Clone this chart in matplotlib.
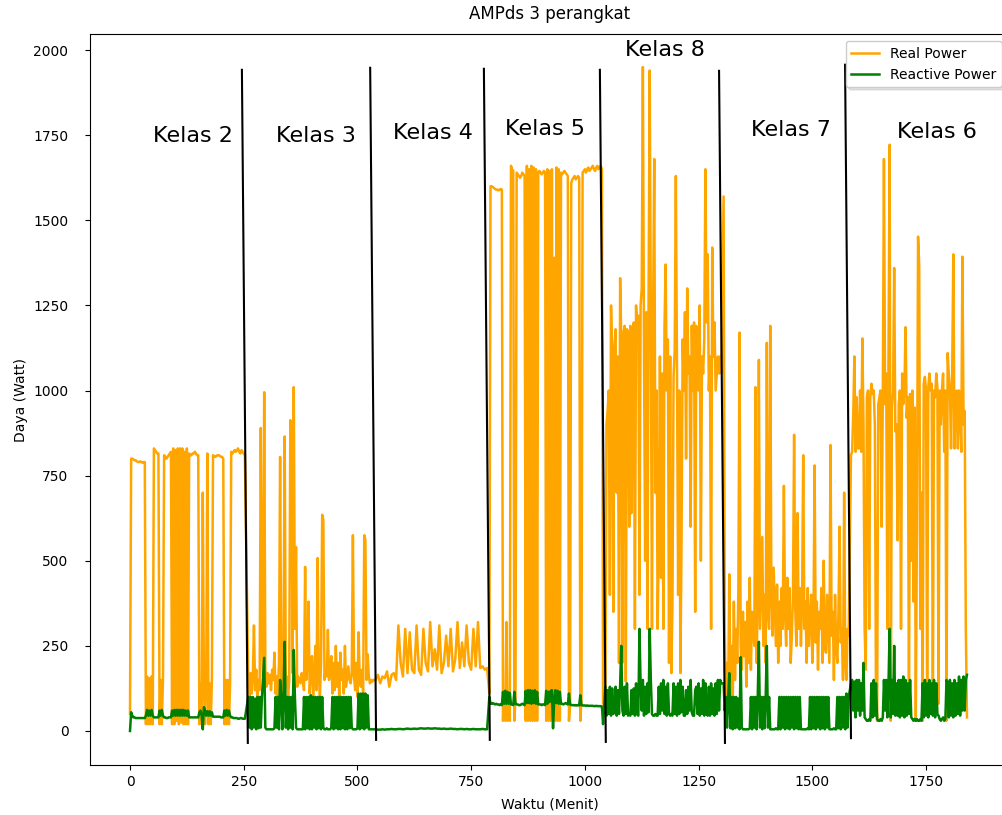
import numpy as np
import matplotlib.pyplot as plt

# awal tiap kelas (menit) dan jarak sampel (menit)
kelas_mulai = [0, 260, 540, 790, 1045, 1305, 1585]
langkah = [2.5, 2.5, 5, 2.5, 2.5, 2.5, 2.5]

# Real Power per kelas
real_k2 = [50,
           800, 800, 798, 795, 795, 792, 790, 790, 792, 790, 788, 790, 790,
           20, 160, 20, 155, 20, 160, 20,
           830, 825, 820, 815, 815,
           20, 150, 20, 155,
           810, 805, 800, 805, 810, 815, 820,
           20, 830, 20, 825, 30, 830, 20, 830, 25, 830, 20, 820, 20, 830, 20,
           815, 810, 810, 815, 815, 820, 815, 810, 810,
           20, 140, 20, 700, 130, 20, 140, 815, 20,
           140, 20, 150,
           810, 808, 805, 808, 810, 810, 808, 805, 805, 800,
           20, 150, 20, 150, 20, 140,
           820, 815, 820, 825, 820, 825, 830, 820, 815, 825, 820, 815, 810]
real_k3 = [150, 100, 170, 110, 160, 310, 120, 180, 100, 150,
           120, 890, 300, 160, 995, 180, 130, 170, 140, 165,
           120, 180, 150, 230, 110, 160, 100, 200, 805, 150,
           100, 250, 865, 130, 160, 100, 150, 913, 880, 170,
           1010, 300, 540, 130, 160, 150, 140, 170, 150, 120,
           482, 150, 200, 380, 110, 170, 220, 100, 160, 250,
           120, 508, 170, 100, 200, 635, 620, 150, 180, 160,
           297, 150, 180, 220, 110, 200, 120, 250, 130, 200,
           100, 230, 150, 180, 110, 250, 130, 160, 190, 150,
           140, 170, 575, 160, 120, 200, 100, 290, 150, 130,
           180, 110, 575, 560, 150, 225, 160, 140, 150, 145,
           150]
real_k4 = [150, 165, 140, 160, 155, 175, 130, 165, 170, 150, 310, 200, 160, 300, 170, 290, 180, 170, 310, 180,
           165, 300, 200, 175, 320, 190, 240, 180, 310, 170, 200, 280, 190, 300, 175, 210, 320, 185, 260, 190,
           310, 200, 180, 300, 190, 320, 185, 190, 180, 185]
real_k5 = [110, 1600,
           1600, 1598, 1595, 1592, 1590, 1590, 1588, 1590, 1592, 1590,
           30, 120, 30, 320, 30, 110, 30,
           1660, 1650, 1645,
           30, 100,
           1640, 1635, 1630, 1625, 1630, 1640, 1635, 1630,
           30, 1660, 30, 1650, 30, 1660, 30, 1655, 30, 1650, 30,
           1640, 1645, 1640, 1635, 1640, 1645, 1640,
           30, 1650, 30, 1645, 30, 1650, 30, 1390, 30, 1655, 30, 1650, 30,
           1640, 1635, 1640, 1645, 1640, 1635, 1630,
           30, 80,
           1610, 1620, 1625, 1630, 1620, 1625, 1630, 1625,
           30, 90,
           1640, 1645, 1650, 1640, 1650, 1655, 1645, 1650, 1655, 1660, 1650, 1645, 1655, 1660, 1650, 1655, 1660, 1650,
           80]
real_k8 = [80, 900, 940, 1000, 400, 1250, 1100, 350, 1130, 1180,
           700, 1100, 200, 1330, 1150, 200, 1170, 1190, 145, 1180,
           1170, 600, 1190, 640, 1000, 1200, 300, 1250, 1180, 1220,
           400, 1250, 1300, 1950, 1100, 500, 1230, 300, 1250, 1940,
           1200, 300, 1230, 1680, 700, 1000, 300, 570, 1100, 450,
           1050, 300, 1180, 1370, 1000, 1150, 200, 1100, 170, 370,
           1040, 1120, 1630, 1060, 400, 1000, 170, 560, 1150, 1000,
           1230, 800, 1300, 1050, 1100, 600, 1190, 1000, 1200, 350,
           1190, 1050, 1000, 1250, 500, 1100, 1050, 1150, 1650, 1200,
           1400, 1000, 1100, 300, 1420, 1100, 1200, 1000, 1050, 1100,
           1050, 1100, 1050]
real_k7 = [1570, 300, 60, 200, 100, 460, 120, 250, 80, 380,
           150, 300, 200, 420, 1170, 250, 180, 350, 220, 320,
           130, 380, 200, 450, 180, 350, 300, 250, 1010, 200,
           380, 1090, 300, 430, 570, 250, 400, 200, 1140, 350,
           300, 1190, 400, 280, 480, 370, 250, 430, 200, 380,
           250, 420, 300, 720, 350, 250, 450, 300, 420, 200,
           280, 400, 870, 360, 250, 640, 300, 420, 250, 380,
           810, 300, 380, 200, 420, 250, 330, 400, 200, 300,
           780, 260, 380, 180, 350, 300, 420, 200, 500, 250,
           230, 400, 300, 200, 840, 280, 350, 150, 400, 250,
           200, 350, 600, 260, 300, 150, 700, 200, 150, 300,
           280]
real_k6 = [810, 820, 930, 1100, 820, 980, 830, 830, 1000, 820,
           1153, 900, 300, 180, 980, 1000, 300, 980, 1020, 990,
           1000, 900, 90, 30, 960, 980, 1000, 600, 980, 1680,
           960, 1050, 300, 1100, 1722, 30, 950, 1000, 1360, 880,
           900, 560, 960, 1000, 300, 1050, 960, 1000, 1186, 920,
           980, 80, 990, 500, 1000, 380, 950, 30, 600, 1452,
           1365, 300, 700, 30, 1020, 1040, 1000, 60, 1010, 1050,
           1000, 1020, 50, 1000, 980, 1050, 1010, 80, 1000, 900,
           1000, 1050, 820, 1000, 30, 1110, 1050, 1000, 830, 1050,
           1400, 830, 950, 1000, 830, 1000, 940, 820, 1393, 900,
           940, 300, 40]

# Reactive Power per kelas
reac_k2 = [0,
           55, 45, 40, 40, 38, 38, 38, 38, 38, 38, 38, 38, 38,
           45, 62, 45, 60, 45, 62, 45,
           40, 40, 40, 40, 40,
           60, 45, 62, 45,
           40, 40, 38, 38, 40, 40, 40,
           60, 45, 62, 45, 62, 45, 62, 45, 62, 45, 62, 45, 60, 45, 60,
           40, 40, 40, 40, 40, 40, 40, 40, 40,
           55, 60, 45, 5, 70, 60, 45, 58, 45,
           58, 45, 55,
           42, 42, 42, 42, 42, 42, 42, 40, 40, 40,
           60, 45, 62, 45, 60, 45,
           40, 40, 38, 38, 38, 38, 36, 36, 38, 38, 36, 36, 36]
reac_k3 = [100, 10, 100, 5, 100, 10, 95, 5, 100, 8,
           100, 10, 100, 160, 215, 10, 5, 5, 5, 5,
           5, 5, 5, 8, 100, 10, 100, 5, 150, 100,
           5, 100, 262, 10, 100, 5, 100, 10, 100, 5,
           238, 100, 10, 5, 5, 5, 5, 5, 5, 100,
           5, 100, 8, 100, 5, 105, 5, 100, 10, 100,
           5, 100, 8, 100, 5, 100, 10, 5, 5, 8,
           5, 5, 5, 10, 100, 5, 100, 8, 100, 5,
           100, 5, 100, 8, 100, 5, 100, 5, 100, 8,
           100, 10, 5, 5, 5, 5, 8, 110, 5, 110,
           8, 110, 5, 110, 10, 105, 5, 5, 5, 5,
           5]
reac_k4 = [5, 4, 4, 5, 4, 5, 5, 6, 5, 5, 6, 6, 5, 6, 7, 6, 6, 7, 6, 7,
           8, 7, 7, 8, 7, 7, 8, 7, 7, 6, 7, 6, 6, 7, 6, 6, 5, 6, 6, 5,
           6, 5, 5, 6, 5, 5, 5, 6, 5, 5]
reac_k5 = [100, 80,
           80, 82, 80, 78, 80, 78, 78, 76, 78, 76,
           115, 80, 118, 80, 115, 80, 112,
           78, 78, 76,
           115, 80,
           78, 78, 76, 76, 78, 80, 78, 76,
           118, 82, 120, 82, 120, 80, 118, 82, 120, 80, 115,
           78, 78, 78, 76, 78, 78, 76,
           118, 80, 115, 85, 118, 120, 8, 90, 120, 82, 118, 80, 115,
           80, 80, 78, 80, 82, 80, 78,
           110, 78,
           76, 76, 76, 75, 76, 75, 76, 75,
           105, 76,
           75, 75, 75, 74, 75, 74, 74, 74, 74, 74, 73, 73, 74, 73, 73, 73, 73, 72,
           20]
reac_k8 = [130, 45, 120, 50, 130, 45, 125, 50, 60, 130,
           45, 120, 50, 135, 250, 60, 45, 130, 50, 140,
           45, 50, 45, 120, 50, 125, 45, 140, 50, 45,
           300, 140, 60, 150, 45, 130, 50, 140, 55, 300,
           150, 50, 45, 45, 50, 45, 45, 130, 50, 140,
           60, 150, 50, 130, 45, 140, 50, 45, 50, 45,
           140, 50, 130, 45, 140, 50, 150, 55, 130, 45,
           45, 120, 50, 130, 60, 150, 55, 45, 45, 120,
           130, 50, 140, 45, 125, 50, 150, 45, 140, 55,
           45, 130, 45, 140, 50, 125, 45, 140, 50, 150,
           60, 150, 140]
reac_k7 = [140, 60, 100, 10, 95, 170, 8, 100, 5, 100,
           8, 100, 10, 95, 5, 217, 10, 5, 5, 5,
           5, 5, 5, 8, 100, 5, 100, 10, 100, 5,
           100, 262, 10, 100, 5, 100, 8, 100, 250, 10,
           100, 5, 5, 5, 5, 5, 8, 5, 5, 100,
           5, 100, 10, 100, 5, 100, 8, 100, 5, 100,
           10, 100, 5, 100, 8, 100, 5, 100, 5, 5,
           5, 5, 5, 5, 8, 5, 100, 5, 100, 8,
           100, 5, 100, 10, 100, 5, 100, 8, 100, 5,
           100, 10, 100, 5, 5, 5, 5, 8, 5, 5,
           100, 8, 100, 5, 100, 10, 100, 5, 110, 10,
           100]
reac_k6 = [140, 150, 60, 145, 40, 150, 60, 150, 45, 140,
           60, 200, 40, 35, 30, 30, 35, 30, 140, 40,
           150, 45, 140, 35, 30, 30, 35, 30, 40, 150,
           60, 150, 40, 140, 300, 40, 150, 50, 250, 45,
           140, 45, 150, 40, 150, 45, 160, 40, 150, 45,
           140, 50, 150, 40, 35, 30, 35, 30, 35, 30,
           30, 35, 30, 140, 40, 150, 45, 140, 40, 150,
           50, 140, 45, 150, 40, 140, 50, 45, 35, 30,
           35, 40, 30, 35, 150, 140, 40, 150, 45, 140,
           40, 150, 45, 140, 50, 160, 45, 150, 60, 160,
           60, 150, 165]

real_chunks = [real_k2, real_k3, real_k4, real_k5, real_k8, real_k7, real_k6]
reac_chunks = [reac_k2, reac_k3, reac_k4, reac_k5, reac_k8, reac_k7, reac_k6]

# garis pemisah yang digambar tangan (x_atas, y_atas, x_bawah, y_bawah)
pemisah = [(246, 1942, 259, -35), (528, 1948, 541, -26), (778, 1945, 791, -26),
           (1033, 1942, 1046, -32), (1295, 1939, 1308, -35), (1572, 1957, 1585, -21)]
label_kelas = ["Kelas 2", "Kelas 3", "Kelas 4", "Kelas 5", "Kelas 8", "Kelas 7", "Kelas 6"]
posisi_label = [(138, 1748), (409, 1748), (666, 1757), (912, 1769), (1176, 2001), (1453, 1765), (1774, 1759)]


def gabung(chunks):
    t, v = [], []
    for mulai, dt, c in zip(kelas_mulai, langkah, chunks):
        t.extend(mulai + dt * np.arange(len(c)))
        v.extend(c)
    return np.array(t), np.array(v)


t_real, p_real = gabung(real_chunks)
t_reac, p_reac = gabung(reac_chunks)

fig = plt.figure(figsize=(10.02, 8.15), dpi=100)
ax = fig.add_axes([0.0898, 0.0613, 0.917, 0.8969])

ax.plot(t_real, p_real, color="orange", lw=1.8, label="Real Power")
ax.plot(t_reac, p_reac, color="green", lw=1.8, label="Reactive Power")

for x0, y0, x1, y1 in pemisah:
    ax.plot([x0, x1], [y0, y1], color="black", lw=1.5)

for teks, (x, y) in zip(label_kelas, posisi_label):
    ax.text(x, y, teks, fontsize=16, ha="center", va="center")

ax.set_xlim(-88, 1932)
ax.set_ylim(-100, 2047)
ax.tick_params(axis="y", pad=12)
ax.set_title("AMPds 3 perangkat", pad=11)
ax.set_xlabel("Waktu (Menit)", labelpad=6)
ax.set_ylabel("Daya (Watt)")
ax.legend(loc="upper right", shadow={"color": "0.8", "alpha": 0.6})

fig.savefig("out.png", dpi=100)
